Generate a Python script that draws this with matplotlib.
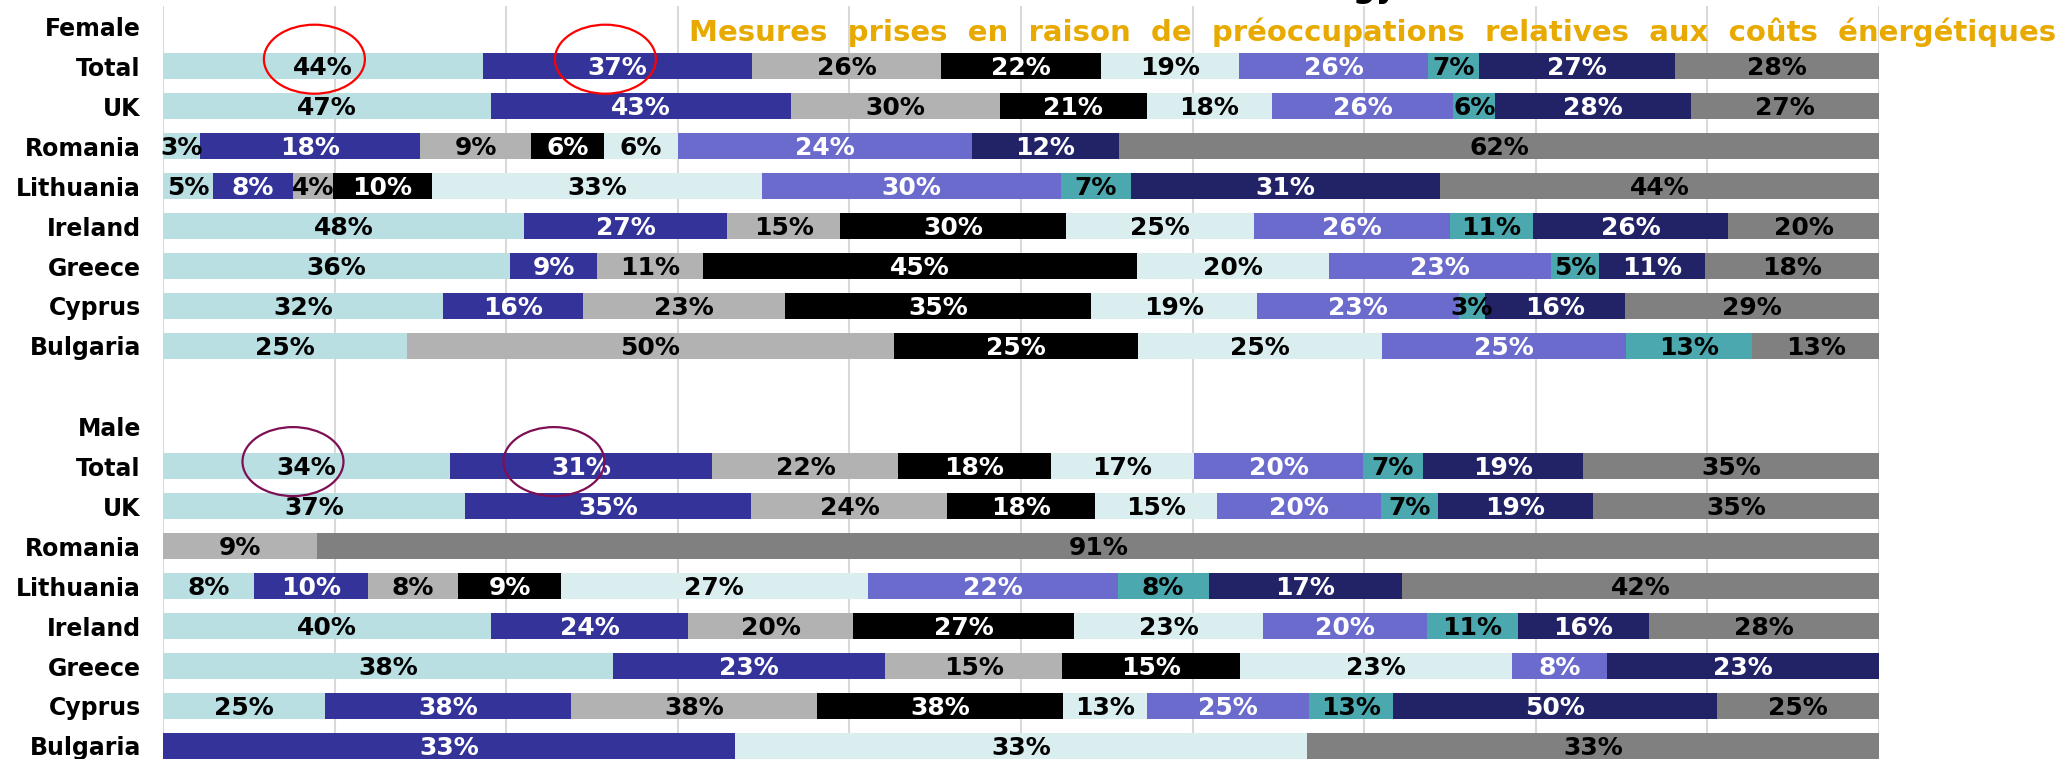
import matplotlib
matplotlib.use("Agg")
import matplotlib.pyplot as plt
from matplotlib.patches import Ellipse
import numpy as np

# ---------------- data ----------------
row_labels = ["Female", "Total", "UK", "Romania", "Lithuania", "Ireland", "Greece", "Cyprus", "Bulgaria",
              "",
              "Male", "Total", "UK", "Romania", "Lithuania", "Ireland", "Greece", "Cyprus", "Bulgaria"]

# 9 series per row (None = header / empty row)
female_total     = [44, 37, 26, 22, 19, 26, 7, 27, 28]
female_uk        = [47, 43, 30, 21, 18, 26, 6, 28, 27]
female_romania   = [3, 18, 9, 6, 6, 24, 0, 12, 62]
female_lithuania = [5, 8, 4, 10, 33, 30, 7, 31, 44]
female_ireland   = [48, 27, 15, 30, 25, 26, 11, 26, 20]
female_greece    = [36, 9, 11, 45, 20, 23, 5, 11, 18]
female_cyprus    = [32, 16, 23, 35, 19, 23, 3, 16, 29]
female_bulgaria  = [25, 0, 50, 25, 25, 25, 13, 0, 13]

male_total     = [34, 31, 22, 18, 17, 20, 7, 19, 35]
male_uk        = [37, 35, 24, 18, 15, 20, 7, 19, 35]
male_romania   = [0, 0, 9, 0, 0, 0, 0, 0, 91]
male_lithuania = [8, 10, 8, 9, 27, 22, 8, 17, 42]
male_ireland   = [40, 24, 20, 27, 23, 20, 11, 16, 28]
male_greece    = [38, 23, 15, 15, 23, 8, 0, 23, 0]
male_cyprus    = [25, 38, 38, 38, 13, 25, 13, 50, 25]
male_bulgaria  = [0, 33, 0, 0, 33, 0, 0, 0, 33]

rows = [None, female_total, female_uk, female_romania, female_lithuania, female_ireland,
        female_greece, female_cyprus, female_bulgaria,
        None,
        None, male_total, male_uk, male_romania, male_lithuania, male_ireland,
        male_greece, male_cyprus, male_bulgaria]

series_colors = ["#B9DFE2", "#333399", "#B2B2B2", "#000000", "#DAEEF0",
                 "#6B6BCD", "#4AA8AE", "#222266", "#808080"]
label_colors = ["black", "white", "black", "white", "black",
                "white", "black", "white", "black"]

title_text = "Mesures  prises  en  raison  de  préoccupations  relatives  aux  coûts  énergétiques"
top_text = "Energy"

# ---------------- figure ----------------
W, H = 2065, 759
fig = plt.figure(figsize=(W / 100, H / 100), dpi=100)
ax_left, ax_right, ax_top = 163, 1879, 6
ax = fig.add_axes([ax_left / W, 0, (ax_right - ax_left) / W, (H - ax_top) / H])

n_rows = len(row_labels)
row_pitch = 40.0
first_center = 26.0
ax.set_ylim((H - first_center) / row_pitch, (ax_top - first_center) / row_pitch)
ax.set_xlim(0, 1)

bar_h = 0.65
for i, vals in enumerate(rows):
    if vals is None:
        continue
    v = np.array(vals, dtype=float)
    frac = v / v.sum()
    left = np.concatenate([[0], np.cumsum(frac)[:-1]])
    for k in range(len(v)):
        if v[k] == 0:
            continue
        ax.barh(i, frac[k], left=left[k], height=bar_h, color=series_colors[k],
                edgecolor="none", zorder=2)
        ax.text(left[k] + frac[k] / 2, i + 0.04, f"{int(v[k])}%", ha="center", va="center",
                fontsize=18, fontweight="bold", color=label_colors[k], zorder=3)

for gx in np.arange(0, 1.0001, 0.1):
    ax.axvline(gx, color="#D9D9D9", lw=1.5, zorder=1)

ax.set_yticks(range(n_rows))
ax.set_yticklabels(row_labels, fontsize=17, fontweight="bold")
ax.tick_params(axis="y", length=0, pad=16)
ax.set_xticks([])
for s in ax.spines.values():
    s.set_visible(False)

# annotation ellipses (highlight circles)
def seg_center(vals, k):
    v = np.array(vals, dtype=float)
    frac = v / v.sum()
    return frac[:k].sum() + frac[k] / 2

ew, eh = 101 / (ax_right - ax_left), 69 / row_pitch
ellipses = [(seg_center(female_total, 0) - 0.005, 0.83, "#FF0000"),
            (seg_center(female_total, 1) - 0.007, 0.83, "#FF0000"),
            (seg_center(male_total, 0) - 0.008, 10.89, "#7F0F55"),
            (seg_center(male_total, 1) - 0.016, 10.89, "#7F0F55")]
for cx, cy, col in ellipses:
    ax.add_patch(Ellipse((cx, cy), ew, eh, fill=False, edgecolor=col, lw=1.6, zorder=5,
                         clip_on=False))

# titles
fig.text(2056 / W, 1 - 41 / H, title_text, ha="right", va="baseline", fontsize=21,
         fontweight="bold", color="#E8AA00", zorder=10)
fig.text(1397 / W, 1 + 2.5 / H, top_text, ha="right", va="baseline", fontsize=23,
         fontweight="bold", color="black")

fig.savefig("out.png", dpi=100)
